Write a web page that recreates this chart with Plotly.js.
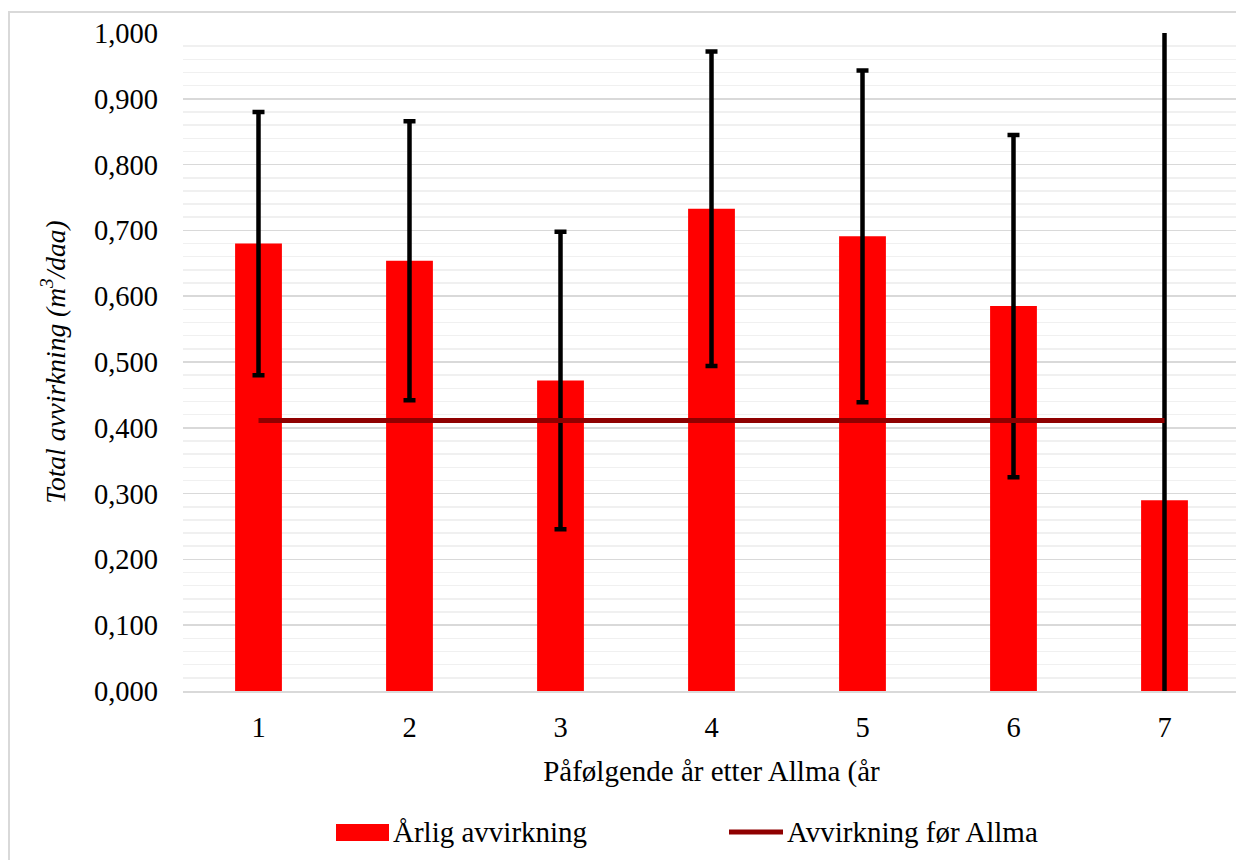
<!DOCTYPE html>
<html>
<head>
<meta charset="utf-8">
<script src="https://cdn.plot.ly/plotly-3.0.1.min.js"></script>
<style>
  html, body { margin: 0; padding: 0; background: #ffffff; overflow: hidden; }
  #wrap { position: relative; width: 1236px; height: 860px; overflow: hidden; }
  #frame { position: absolute; left: 8px; top: 11px; width: 1300px; height: 900px;
           border-left: 2px solid #d9d9d9; border-top: 2px solid #d9d9d9; pointer-events: none; }
  #chart { position: absolute; left: 0; top: 0; width: 1240px; height: 860px; }
</style>
</head>
<body>
<div id="wrap">
  <div id="chart"></div>
  <div id="frame"></div>
</div>
<script>
// ---- data ----
const years = [1, 2, 3, 4, 5, 6, 7];
const annualHarvest = [0.680, 0.654, 0.472, 0.733, 0.691, 0.585, 0.290];
const harvestError = [0.200, 0.212, 0.226, 0.239, 0.252, 0.260, 0.800];
const beforeAllmaYears = [1, 7];
const beforeAllmaValue = [0.411, 0.411];
const tickValsY = [0, 0.1, 0.2, 0.3, 0.4, 0.5, 0.6, 0.7, 0.8, 0.9, 1.0];
const seriesNames = ["Årlig avvirkning", "Avvirkning før Allma"];

const FONT = '"Times New Roman", "Liberation Serif", "DejaVu Serif", serif';
const FS_TICK = 28.5;
const FS_TEXT = 29;
const FS_YT = 27.5;

const mL = 183, mT = 33, mB = 169, W = 1240, H = 860;
const plotW = W - mL - 0, plotH = H - mT - mB;
function px(x) { return (x - mL) / plotW; }
function py(y) { return (H - mB - y) / plotH; }

const traces = [
  {
    type: "bar",
    x: years,
    y: annualHarvest,
    name: seriesNames[0],
    width: 0.31,
    marker: { color: "#ff0000", line: { width: 0 } },
    error_y: { type: "data", array: harvestError, visible: true, color: "#000000", thickness: 4.5, width: 6 },
    showlegend: false,
    hoverinfo: "x+y"
  },
  {
    type: "scatter",
    mode: "lines",
    x: beforeAllmaYears,
    y: beforeAllmaValue,
    name: seriesNames[1],
    line: { color: "#8f0000", width: 5 },
    showlegend: false
  }
];

const layout = {
  width: W,
  height: H,
  margin: { l: mL, r: 0, t: mT, b: mB, pad: 0 },
  paper_bgcolor: "rgba(0,0,0,0)",
  plot_bgcolor: "#ffffff",
  separators: ", ",
  font: { family: FONT, size: FS_TICK, color: "#000000" },
  xaxis: {
    range: [0.5, 7.5],
    tickvals: years,
    ticktext: years.map(String),
    showgrid: false,
    zeroline: false,
    showline: true,
    linecolor: "#d9d9d9",
    linewidth: 2,
    ticks: "",
    ticklabelstandoff: 10,
    tickfont: { family: FONT, size: FS_TICK, color: "#000" },
    title: { text: "Påfølgende år etter Allma (år", font: { family: FONT, size: FS_TEXT, color: "#000" }, standoff: 18 },
    fixedrange: true
  },
  yaxis: {
    range: [0, 1.0],
    tickvals: tickValsY,
    tickformat: ".3f",
    showgrid: true,
    gridcolor: "#d9d9d9",
    gridwidth: 1.5,
    zeroline: false,
    showline: false,
    ticks: "",
    ticklabelstandoff: 24,
    tickfont: { family: FONT, size: FS_TICK, color: "#000" },
    minor: { dtick: 0.02, showgrid: true, gridcolor: "#f0f0f0", gridwidth: 1.5, ticks: "" },
    title: { text: "<i>Total avvirkning (m<sup>3</sup>/daa)</i>", font: { family: FONT, size: FS_YT, color: "#000" }, standoff: 20 },
    fixedrange: true
  },
  shapes: [
    { type: "rect", xref: "paper", yref: "paper", x0: px(336), x1: px(389), y0: py(841), y1: py(824),
      fillcolor: "#ff0000", line: { width: 0 } },
    { type: "line", xref: "paper", yref: "paper", x0: px(729), x1: px(783), y0: py(832), y1: py(832),
      line: { color: "#8f0000", width: 5 } }
  ],
  annotations: [
    { xref: "paper", yref: "paper", x: px(391), y: py(832), xanchor: "left", yanchor: "middle",
      text: seriesNames[0], showarrow: false, font: { family: FONT, size: FS_TEXT, color: "#000" } },
    { xref: "paper", yref: "paper", x: px(785), y: py(832), xanchor: "left", yanchor: "middle",
      text: seriesNames[1], showarrow: false, font: { family: FONT, size: FS_TEXT, color: "#000" } }
  ],
  showlegend: false
};

Plotly.newPlot("chart", traces, layout, { displayModeBar: false, staticPlot: true });
</script>
</body>
</html>
